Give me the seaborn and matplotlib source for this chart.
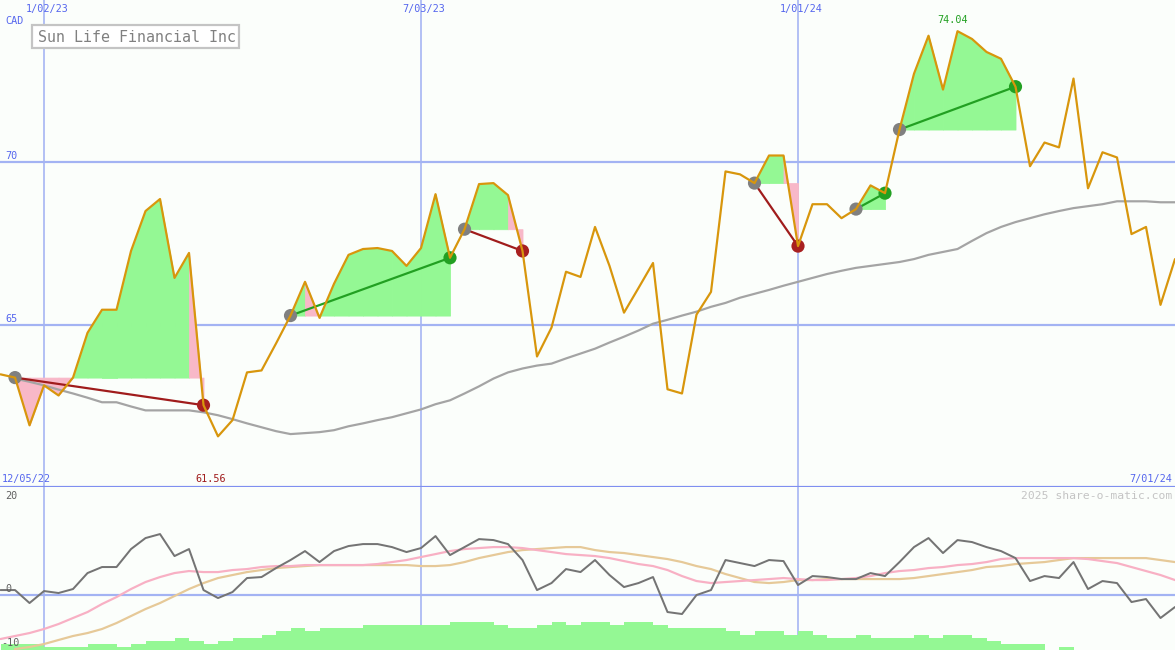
import matplotlib
matplotlib.use("Agg")
import matplotlib.pyplot as plt
from matplotlib.patches import Rectangle
import numpy as np
import pandas as pd
import seaborn as sns

# weekly closes, Sun Life Financial (CAD)
weeks = pd.date_range("2022-12-12", "2024-07-01", freq="7D")

price = [63.47, 63.37, 61.90, 63.13, 62.82, 63.37, 64.75, 65.46, 65.46, 67.27,
         68.50, 68.87, 66.44, 67.21, 62.52, 61.56, 62.06, 63.53, 63.59, 64.42,
         65.28, 66.32, 65.21, 66.26, 67.15, 67.33, 67.36, 67.27, 66.81, 67.36,
         69.02, 67.06, 67.94, 69.33, 69.36, 68.99, 67.27, 64.02, 64.91, 66.63,
         66.47, 68.01, 66.81, 65.37, 66.13, 66.90, 63.01, 62.88, 65.31, 66.01,
         69.72, 69.63, 69.36, 70.21, 70.21, 67.42, 68.71, 68.71, 68.28, 68.56,
         69.29, 69.05, 71.01, 72.73, 73.90, 72.24, 74.04, 73.80, 73.40, 73.19,
         72.33, 69.88, 70.61, 70.46, 72.58, 69.20, 70.31, 70.15, 67.79, 68.01,
         65.61, 67.02]

ma = [np.nan, 63.34, 63.24, 63.13, 63.00, 62.88, 62.75, 62.61, 62.61, 62.48,
      62.36, 62.36, 62.36, 62.36, 62.30, 62.21, 62.09, 61.96, 61.84, 61.72,
      61.63, 61.66, 61.69, 61.75, 61.87, 61.96, 62.06, 62.15, 62.27, 62.39,
      62.55, 62.67, 62.88, 63.10, 63.34, 63.53, 63.65, 63.74, 63.80, 63.96,
      64.11, 64.26, 64.45, 64.63, 64.82, 65.03, 65.15, 65.28, 65.40, 65.55,
      65.67, 65.83, 65.95, 66.07, 66.20, 66.32, 66.44, 66.56, 66.66, 66.75,
      66.81, 66.87, 66.93, 67.02, 67.15, 67.24, 67.33, 67.58, 67.82, 68.01,
      68.16, 68.28, 68.40, 68.50, 68.59, 68.65, 68.71, 68.80, 68.80, 68.80,
      68.77, 68.77]

osc = [1.06, 1.06, -1.70, 0.85, 0.43, 1.28, 4.68, 5.96, 5.96, 9.79,
       12.13, 12.98, 8.30, 9.79, 1.06, -0.64, 0.64, 3.62, 3.83, 5.74,
       7.45, 9.36, 7.02, 9.36, 10.43, 10.85, 10.85, 10.21, 9.15, 10.00,
       12.55, 8.51, 10.21, 11.91, 11.70, 10.85, 7.45, 1.06, 2.55, 5.53,
       4.89, 7.45, 4.26, 1.70, 2.55, 3.83, -3.62, -4.04, 0.00, 1.06,
       7.45, 6.81, 6.17, 7.45, 7.23, 2.13, 4.04, 3.83, 3.40, 3.40,
       4.68, 4.04, 7.02, 10.21, 12.13, 8.94, 11.70, 11.28, 10.21, 9.36,
       7.87, 2.98, 4.04, 3.62, 7.02, 1.28, 2.98, 2.55, -1.49, -0.85,
       -4.89, -2.55]

osc_fast = [-9.36, -8.72, -8.09, -7.23, -6.17, -4.89, -3.62, -1.91, -0.43, 1.28,
            2.77, 3.83, 4.68, 5.11, 4.89, 4.89, 5.32, 5.53, 5.96, 6.17,
            6.17, 6.38, 6.38, 6.38, 6.38, 6.38, 6.60, 7.02, 7.45, 8.09,
            8.72, 9.36, 9.79, 10.00, 10.21, 10.21, 10.00, 9.57, 9.15, 8.72,
            8.51, 8.30, 7.87, 7.23, 6.60, 6.17, 5.32, 4.04, 2.98, 2.55,
            2.77, 2.98, 3.19, 3.40, 3.62, 3.40, 3.19, 3.19, 3.40, 3.62,
            4.04, 4.68, 5.11, 5.32, 5.74, 5.96, 6.38, 6.60, 7.02, 7.66,
            7.87, 7.87, 7.87, 7.87, 7.87, 7.66, 7.23, 6.81, 5.96, 5.11,
            4.26, 3.19]

osc_slow = [np.nan, -11.49, -11.06, -10.43, -9.57, -8.72, -8.09, -7.23, -5.96, -4.47,
            -2.98, -1.70, -0.21, 1.28, 2.55, 3.62, 4.26, 4.89, 5.32, 5.74,
            5.96, 6.17, 6.38, 6.38, 6.38, 6.38, 6.38, 6.38, 6.38, 6.17,
            6.17, 6.38, 7.02, 7.87, 8.51, 9.15, 9.57, 9.79, 10.00, 10.21,
            10.21, 9.57, 9.15, 8.94, 8.51, 8.09, 7.66, 7.02, 6.17, 5.53,
            4.47, 3.62, 2.77, 2.55, 2.77, 3.19, 3.19, 3.40, 3.40, 3.40,
            3.40, 3.40, 3.40, 3.62, 4.04, 4.47, 4.89, 5.32, 5.96, 6.17,
            6.60, 6.81, 7.02, 7.45, 7.87, 7.87, 7.87, 7.87, 7.87, 7.87,
            7.45, 7.02]

volume = [2, 2, 2, 1, 1, 1, 2, 2, 1, 2,
          3, 3, 4, 3, 2, 3, 4, 4, 5, 6,
          7, 6, 7, 7, 7, 8, 8, 8, 8, 8,
          8, 9, 9, 9, 8, 7, 7, 8, 9, 8,
          9, 9, 8, 9, 9, 8, 7, 7, 7, 7,
          6, 5, 6, 6, 5, 6, 5, 4, 4, 5,
          4, 4, 4, 5, 4, 5, 5, 4, 3, 2,
          2, 2, 0, 1, 0, 0, 0, 0, 0, 0,
          0, 0]

entries = [1, 20, 32, 52, 59, 62]
exits = [14, 31, 36, 55, 61, 70]

grid_dates = pd.to_datetime(["2023-01-02", "2023-07-03", "2024-01-01"])
grid_labels = ["1/02/23", "7/03/23", "1/01/24"]
price_levels = [70, 65]
first_label, last_label = "12/05/22", "7/01/24"

bg = "#fbfefb"
grid_c = "#a3b3f3"
blue_txt = "#5566ee"
mono = ["DejaVu Sans Mono"]

sns.set_theme(style="white", rc={"axes.facecolor": bg, "figure.facecolor": bg})
plt.rcParams["font.family"] = mono

W, H = 1175, 650
px = lambda v: v * 0.72  # pixels -> points

fig = plt.figure(figsize=(W / 100, H / 100), dpi=100)
ax = fig.add_axes([0, 163 / H, 1, 487 / H])
lo = fig.add_axes([0, 0, 1, 163 / H])
osc_ax = lo.twinx()

x0, x1 = weeks[0] - pd.Timedelta(hours=6), weeks[-1]
for a in (ax, lo, osc_ax):
    a.set_xlim(x0, x1)
    a.set_xticks([])
    a.set_yticks([])
    for s in a.spines.values():
        s.set_visible(False)
ax.set_ylim(60, 75)
lo.set_ylim(0, 52.6)
osc_ax.set_ylim(-11.7, 23)
osc_ax.patch.set_visible(False)

ax.spines["bottom"].set_visible(True)
ax.spines["bottom"].set_color("#7f8ff0")
ax.spines["bottom"].set_linewidth(px(2.2))

# grid
for d in grid_dates:
    ax.axvline(d, color=grid_c, lw=px(1.6), zorder=1)
    lo.axvline(d, color=grid_c, lw=px(1.6), zorder=1)
for lv in price_levels:
    ax.axhline(lv, color=grid_c, lw=px(2.2), zorder=1)
osc_ax.axhline(0, color=grid_c, lw=px(2.2), zorder=1)

# trade fills, coloured week by week against the entry price
for a, b in zip(entries, exits):
    level = price[a]
    for i in range(a, b):
        col = "#94f894" if price[i + 1] > level else "#f8b8c8"
        ax.fill_between(weeks[i:i + 2], price[i:i + 2], level, facecolor=col,
                        edgecolor=col, lw=px(0.8), zorder=2)

sns.lineplot(x=weeks, y=ma, ax=ax, color="#a4a4a4", lw=px(2.2), zorder=3)

for a, b in zip(entries, exits):
    win = price[b] > price[a]
    ax.plot([weeks[a], weeks[b]], [price[a], price[b]],
            color="#22a022" if win else "#a01c1c", lw=px(2.2), zorder=3.5)
    sns.scatterplot(x=[weeks[a]], y=[price[a]], ax=ax, color="#808080", s=90,
                    edgecolor="none", zorder=4)
    sns.scatterplot(x=[weeks[b]], y=[price[b]], ax=ax, s=90, edgecolor="none",
                    color="#22a022" if win else "#a82020", zorder=4)

sns.lineplot(x=weeks, y=price, ax=ax, color="#d8960c", lw=px(2.2), zorder=5)

# lower panel
lo.bar(weeks, volume, width=7, align="edge", color="#94f894", lw=0,
       antialiased=False, zorder=2)
sns.lineplot(x=weeks, y=osc_slow, ax=osc_ax, color="#e6c998", lw=px(2.2))
sns.lineplot(x=weeks, y=osc_fast, ax=osc_ax, color="#f8b0c4", lw=px(2.2))
sns.lineplot(x=weeks, y=osc, ax=osc_ax, color="#747474", lw=px(2.0))

for a in (ax, lo, osc_ax):
    a.set_xlabel("")
    a.set_ylabel("")
    if a.get_legend():
        a.get_legend().remove()

# labels
fs = 7.3
for d, lab in zip(grid_dates, grid_labels):
    ax.annotate(lab, xy=(d, 1), xycoords=("data", "axes fraction"), xytext=(px(3), px(-9)),
                textcoords="offset points", ha="center", va="center", color=blue_txt, fontsize=fs)
for lv in price_levels:
    ax.annotate(str(lv), xy=(0, lv), xycoords=("axes fraction", "data"), xytext=(px(5), px(3)),
                textcoords="offset points", ha="left", va="baseline", color=blue_txt, fontsize=fs)
ax.annotate("CAD", xy=(0, 1), xycoords="axes fraction", xytext=(px(5), px(-21)),
            textcoords="offset points", ha="left", va="center", color=blue_txt, fontsize=fs)
ax.annotate(first_label, xy=(0, 0), xycoords="axes fraction", xytext=(px(2), px(8)),
            textcoords="offset points", ha="left", va="center", color=blue_txt, fontsize=fs)
ax.annotate(last_label, xy=(1, 0), xycoords="axes fraction", xytext=(px(-3), px(8)),
            textcoords="offset points", ha="right", va="center", color=blue_txt, fontsize=fs)

imax, imin = int(np.argmax(price)), int(np.argmin(price))
ax.annotate(f"{price[imax]:.2f}", xy=(weeks[imax], price[imax]), xytext=(px(-5), px(11)),
            textcoords="offset points", ha="center", va="center", color="#22a022", fontsize=fs)
ax.annotate(f"{price[imin]:.2f}", xy=(weeks[imin], 0), xycoords=("data", "axes fraction"),
            xytext=(px(-7), px(8)), textcoords="offset points", ha="center", va="center",
            color="#a01c1c", fontsize=fs)

# title box
fig.patches.append(Rectangle((32 / W, 1 - 48 / H), 207 / W, 23 / H, transform=fig.transFigure,
                             facecolor="white", edgecolor="#c4c4c4", lw=px(2.2), zorder=10))
fig.text(38 / W, 1 - 37 / H, "Sun Life Financial Inc", color="#808080", fontsize=10.8,
         ha="left", va="center", zorder=11)

osc_lab = dict(color="#606060", fontsize=fs, ha="left", va="center")
osc_ax.annotate("20", xy=(0, 20), xycoords=("axes fraction", "data"), xytext=(px(5), px(5)),
                textcoords="offset points", **osc_lab)
osc_ax.annotate("0", xy=(0, 0), xycoords=("axes fraction", "data"), xytext=(px(5), px(6)),
                textcoords="offset points", **osc_lab)
osc_ax.annotate("-10", xy=(0, -10), xycoords=("axes fraction", "data"), xytext=(px(1), px(-1)),
                textcoords="offset points", **osc_lab)
osc_ax.annotate("2025 share-o-matic.com", xy=(1, 1), xycoords="axes fraction",
                xytext=(px(-3), px(-9)), textcoords="offset points", ha="right", va="center",
                color="#c4c4c4", fontsize=8.2)

fig.savefig("out.png", dpi=100, facecolor=bg)
